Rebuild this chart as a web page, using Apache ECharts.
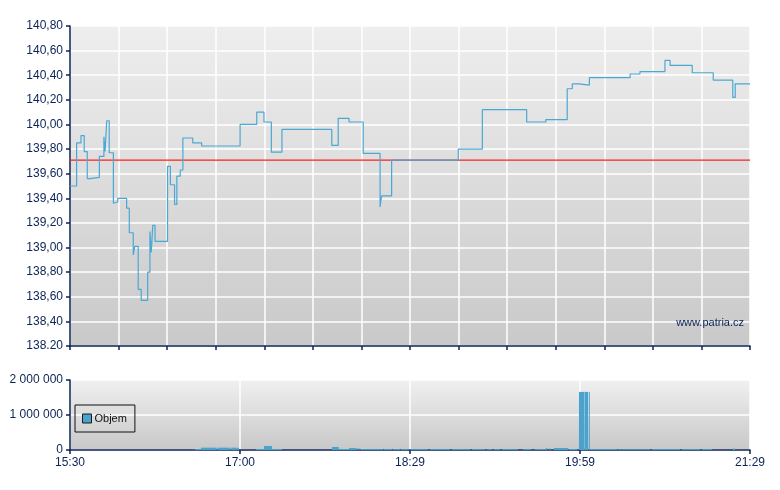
<!DOCTYPE html>
<html>
<head>
<meta charset="utf-8">
<script src="https://cdn.jsdelivr.net/npm/echarts@6/dist/echarts.min.js"></script>
<style>
html,body{margin:0;padding:0;background:#fff;}
#chart{width:780px;height:490px;}
</style>
</head>
<body>
<div id="chart"></div>
<script>
// Price (minutes since 15:30, value)
const priceTime = [0,3.5,5.8,7.5,9.1,10.6,15.5,17.9,18.5,19.4,20.7,22.9,23.2,25.2,29.9,31.3,33.4,34.2,36.0,37.6,41.0,42.2,42.9,43.7,44.9,51.5,53.0,55.2,56.4,58.2,59.6,64.8,69.5,89.8,98.6,102.4,106.3,111.9,138.2,141.6,147.3,154.8,163.7,164.5,169.8,205.0,217.7,241.1,251.2,262.5,265.2,268.7,274.2,295.7,300.9,314.1,316.8,328.5,339.6,349.9,351.2,359];
const priceValue = [139.50,139.85,139.91,139.78,139.56,139.57,139.74,139.90,139.78,140.03,139.77,139.36,139.37,139.40,139.32,139.12,138.94,139.01,138.66,138.57,138.80,139.13,138.96,139.18,139.05,139.66,139.51,139.35,139.58,139.63,139.89,139.85,139.825,140.00,140.10,140.02,139.775,139.96,139.83,140.05,140.02,139.765,139.33,139.42,139.71,139.80,140.12,140.02,140.04,140.29,140.33,140.32,140.38,140.41,140.43,140.52,140.48,140.42,140.36,140.22,140.33,140.33];
const referencePrice = 139.71;
const sessionRange = [0, 359];

// Volume segments (start min, end min, volume)
const volStart = [64.8,66.0,69.2,78.0,85.0,88.3,98.2,102.4,106.6,138.3,141.9,147.3,151.4,152.4,153.5,155.2,165.8,170.5,174.8,179.5,190.0,201.7,212.2,220.2,223.8,228.1,239.2,245.5,251.3,253.2,255.5,263.4,268.7,271.6,273.9,274.5,289.3,307.3,323.1,333.7,350.0];
const volEnd   = [65.1,69.2,77.5,84.5,88.0,89.2,102.4,106.6,111.9,141.9,147.3,151.0,151.7,152.7,155.2,165.3,170.0,174.2,178.9,189.0,200.6,211.2,219.1,222.8,227.0,236.5,243.4,251.0,252.0,253.5,262.8,267.7,271.4,273.5,274.4,288.8,306.2,322.0,332.6,339.0,351.1];
const volValue = [15000,29000,66000,66000,66000,66000,29000,114000,29000,86000,29000,57000,50000,50000,29000,25000,25000,25000,25000,25000,25000,25000,25000,25000,25000,25000,25000,25000,57000,50000,57000,29000,1660000,1660000,1660000,25000,25000,25000,25000,25000,40000];

const xLabels = ['15:30','17:00','18:29','19:59','21:29'];
const yPriceLabels = ['138.20','138,40','138,60','138,80','139,00','139,20','139,40','139,60','139,80','140,00','140,20','140,40','140,60','140,80'];
const yVolLabels = ['0','1 000 000','2 000 000'];

const navy = '#0c2356';
const font = "'Liberation Sans', Arial, sans-serif";

const chart = echarts.init(document.getElementById('chart'));
const priceData = priceTime.map((t,i)=>[t, priceValue[i]]);
const refData = sessionRange.map(t=>[t, referencePrice]);
const volData = volStart.map((s,i)=>[s, volEnd[i], volValue[i]]);

function bg(top, bottom){
  return new echarts.graphic.LinearGradient(0,0,0,1,[{offset:0,color:top},{offset:1,color:bottom}]);
}

chart.setOption({
  animation:false,
  textStyle:{fontFamily:font},
  grid:[
    {left:70,right:30,top:26,height:320,show:true,backgroundColor:bg('#eeeeee','#c9c9c9'),borderWidth:0},
    {left:70,right:30,top:380,height:70,show:true,backgroundColor:bg('#f0f0f0','#c8c8c8'),borderWidth:0}
  ],
  legend:{
    data:[{name:'Objem',icon:'rect',itemStyle:{color:'#4aa3cc',borderColor:'#1a1a1a',borderWidth:1}}],
    left:75, top:405, orient:'vertical',
    itemWidth:9, itemHeight:9, itemGap:4,
    padding:[8,8,8,7],
    borderColor:'#111', borderWidth:1, borderRadius:0,
    textStyle:{color:'#111',fontSize:11,fontFamily:font,padding:[0,0,0,-2]},
    selectedMode:false
  },
  graphic:[{type:'text',right:36,top:317,z:100,style:{text:'www.patria.cz',fill:navy,font:"11px 'Liberation Sans', Arial, sans-serif"}}],
  xAxis:[
    {gridIndex:0,type:'value',min:0,max:359,interval:359/14,
     axisLine:{show:true,lineStyle:{color:navy,width:1.5}},
     axisTick:{show:true,length:4,lineStyle:{color:navy,width:1.5}},
     axisLabel:{show:false},
     splitLine:{show:true,lineStyle:{color:'#ffffff',width:1.5}}},
    {gridIndex:1,type:'value',min:0,max:359,interval:89.75,
     axisLine:{show:true,lineStyle:{color:navy,width:1.5}},
     axisTick:{show:true,length:4,lineStyle:{color:navy,width:1.5}},
     axisLabel:{show:true,color:navy,fontSize:12,fontFamily:font,margin:7,
       formatter:v=>xLabels[Math.round(v/89.75)]},
     splitLine:{show:true,lineStyle:{color:'#ffffff',width:1.5}}}
  ],
  yAxis:[
    {gridIndex:0,type:'value',min:138.2,max:140.8,interval:0.2,
     axisLine:{show:true,lineStyle:{color:navy,width:1.5}},
     axisTick:{show:true,length:4,lineStyle:{color:navy,width:1.5}},
     axisLabel:{color:navy,fontSize:12,fontFamily:font,margin:7,
       formatter:v=>yPriceLabels[Math.round((v-138.2)/0.2)]},
     splitLine:{show:true,lineStyle:{color:'#ffffff',width:1.5}}},
    {gridIndex:1,type:'value',min:0,max:2000000,interval:1000000,
     axisLine:{show:true,lineStyle:{color:navy,width:1.5}},
     axisTick:{show:true,length:4,lineStyle:{color:navy,width:1.5}},
     axisLabel:{color:navy,fontSize:12,fontFamily:font,margin:7,
       formatter:v=>yVolLabels[Math.round(v/1000000)]},
     splitLine:{show:true,lineStyle:{color:'#ffffff',width:1.5}}}
  ],
  series:[
    {type:'line',name:'Reference',xAxisIndex:0,yAxisIndex:0,data:refData,
     showSymbol:false,silent:true,lineStyle:{color:'#ff1f1f',width:1.3,opacity:1},z:2},
    {type:'line',name:'Cena',xAxisIndex:0,yAxisIndex:0,step:'end',data:priceData,
     showSymbol:false,lineStyle:{color:'#4ba8d3',width:1.2},z:3},
    {type:'custom',name:'Objem',xAxisIndex:1,yAxisIndex:1,data:volData,
     encode:{x:[0,1],y:2},
     itemStyle:{color:'#4aa3cc'},
     renderItem:function(params,api){
       const p0 = api.coord([api.value(0), api.value(2)]);
       const p1 = api.coord([api.value(1), 0]);
       return {type:'rect',
         shape:{x:p0[0],y:p0[1],width:Math.max(p1[0]-p0[0],1),height:p1[1]-p0[1]},
         style:{fill:'#4aa3cc'}};
     }}
  ]
});
</script>
</body>
</html>
